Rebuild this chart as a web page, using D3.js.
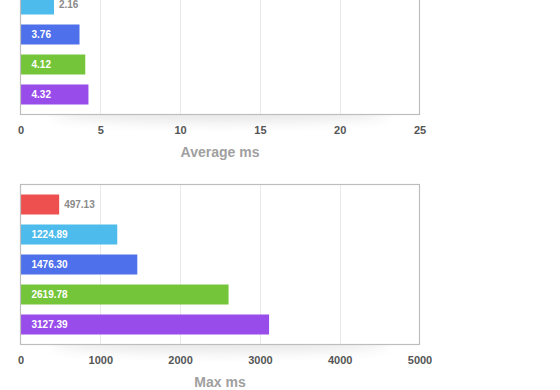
<!DOCTYPE html>
<html>
<head>
<meta charset="utf-8">
<script src="https://cdn.jsdelivr.net/npm/d3@7"></script>
<style>
  html, body { margin: 0; padding: 0; background: #fff; }
  svg { display: block; }
</style>
</head>
<body>
<svg id="chart" width="560" height="390"></svg>
<script>
// ---- data ----
const categories = ["s1", "s2", "s3", "s4", "s5"];
const colors = ["#ee5050", "#4dbbeb", "#4e70ea", "#75c53a", "#984cea"];
const averageMs = [1.02, 2.16, 3.76, 4.12, 4.32]; // first bar is off-canvas in the reference
const averageLabels = ["1.02", "2.16", "3.76", "4.12", "4.32"];
const maxMs = [497.13, 1224.89, 1476.30, 2619.78, 3127.39];
const maxLabels = ["497.13", "1224.89", "1476.30", "2619.78", "3127.39"];
const averageTicks = [0, 5, 10, 15, 20, 25];
const maxTicks = [0, 1000, 2000, 3000, 4000, 5000];

const svg = d3.select("#chart");
const defs = svg.append("defs");
const f = defs.append("filter").attr("id", "shadow")
  .attr("x", "-20%").attr("y", "-50%").attr("width", "140%").attr("height", "200%");
f.append("feGaussianBlur").attr("stdDeviation", 7);

const FONT = "'Liberation Sans', Arial, Helvetica, sans-serif";

function drawChart(opts) {
  const { top, bottom, left, right, domainMax, values, labels, ticks, title } = opts;
  const g = svg.append("g");
  const x = d3.scaleLinear().domain([0, domainMax]).range([left, right]);
  // bars occupy top+10 .. top+150 (step 30, height 20)
  const y = d3.scaleBand().domain(categories)
    .range([top + 10, top + 150]).paddingInner(1 / 3).paddingOuter(0);

  // shadow below box
  g.append("ellipse")
    .attr("cx", (left + right) / 2).attr("cy", bottom - 2)
    .attr("rx", (right - left) / 2 - 30).attr("ry", 9)
    .attr("fill", "#000").attr("opacity", 0.10)
    .attr("filter", "url(#shadow)");

  // plot background
  g.append("rect")
    .attr("x", left).attr("y", top).attr("width", right - left).attr("height", bottom - top)
    .attr("fill", "#fff");

  // gridlines
  g.selectAll("line.grid").data(ticks.slice(1, -1)).join("line")
    .attr("class", "grid")
    .attr("x1", d => Math.round(x(d)) + 0.5).attr("x2", d => Math.round(x(d)) + 0.5)
    .attr("y1", top).attr("y2", bottom)
    .attr("stroke", "#e9e9e9").attr("stroke-width", 1);

  // bars
  g.selectAll("rect.bar").data(values).join("rect")
    .attr("class", "bar")
    .attr("x", x(0) + 0.5)
    .attr("y", (d, i) => y(categories[i]))
    .attr("width", d => Math.max(0, x(d) - x(0) - 1.5))
    .attr("height", y.bandwidth())
    .attr("fill", (d, i) => colors[i]);

  // value labels
  g.selectAll("text.val").data(values).join("text")
    .attr("class", "val")
    .each(function (d, i) {
      const t = d3.select(this);
      const label = labels[i];
      t.text(label)
        .attr("font-family", FONT).attr("font-size", 10).attr("font-weight", "bold")
        .attr("dominant-baseline", "central")
        .attr("y", y(categories[i]) + y.bandwidth() / 2);
      const tw = this.getComputedTextLength();
      const bw = x(d) - x(0);
      if (bw < tw + 22) {
        t.attr("x", x(d) + 4).attr("fill", "#8a8a8a");
      } else {
        t.attr("x", x(0) + 11).attr("fill", "#fff");
      }
    });

  // box border
  g.append("rect")
    .attr("x", left).attr("y", top).attr("width", right - left).attr("height", bottom - top)
    .attr("fill", "none").attr("stroke", "#bdbdbd").attr("stroke-width", 1.2);

  // axis tick labels
  const axis = d3.axisBottom(x).tickValues(ticks).tickSize(0).tickPadding(0)
    .tickFormat(d => String(d));
  const ax = g.append("g").attr("transform", `translate(0,${bottom + 12})`).call(axis);
  ax.select(".domain").remove();
  ax.selectAll("text")
    .attr("font-family", FONT).attr("font-size", 11).attr("font-weight", "bold")
    .attr("fill", "#555").attr("dy", "0.71em");

  // axis title
  g.append("text")
    .attr("x", (left + right) / 2).attr("y", bottom + 37)
    .attr("text-anchor", "middle").attr("dominant-baseline", "central")
    .attr("font-family", FONT).attr("font-size", 14).attr("font-weight", "bold")
    .attr("fill", "#a0a0a0")
    .text(title);
}

drawChart({ top: -45.5, bottom: 114.5, left: 20.5, right: 419.5, domainMax: 25,
  values: averageMs, labels: averageLabels, ticks: averageTicks, title: "Average ms" });
drawChart({ top: 184.5, bottom: 344.5, left: 20.5, right: 419.5, domainMax: 5000,
  values: maxMs, labels: maxLabels, ticks: maxTicks, title: "Max ms" });
</script>
</body>
</html>
